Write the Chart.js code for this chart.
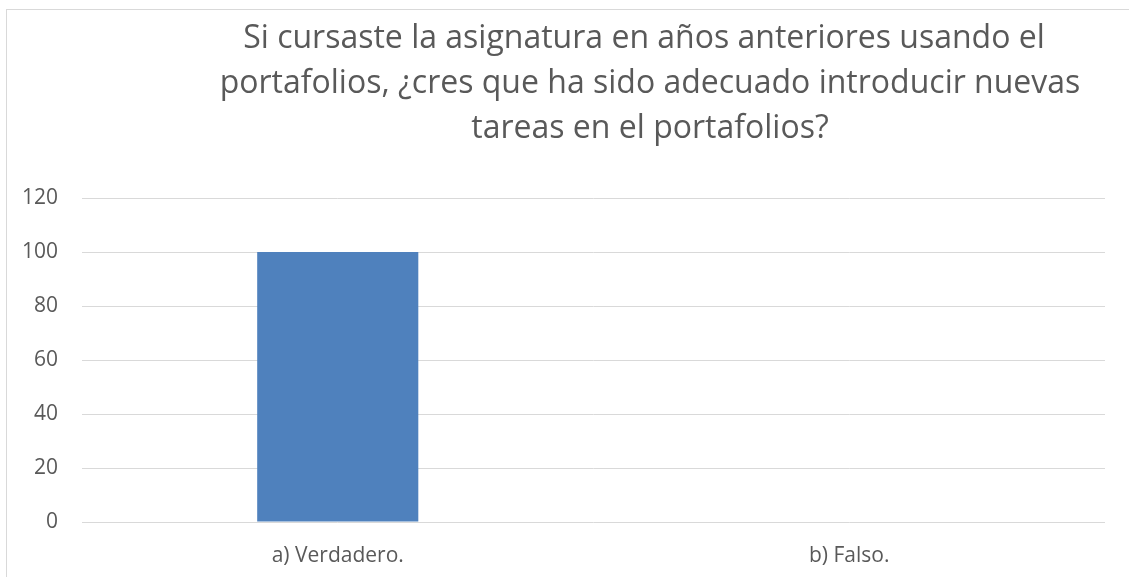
<!DOCTYPE html>
<html>
<head>
<meta charset="utf-8">
<script src="https://cdn.jsdelivr.net/npm/chart.js@4/dist/chart.umd.min.js"></script>
<style>
  html, body { margin: 0; padding: 0; background: #ffffff; }
  #wrap { position: relative; width: 1129px; height: 577px; }
</style>
</head>
<body>
<div id="wrap"><canvas id="c" width="1129" height="577"></canvas></div>
<script>
const categories = ['a) Verdadero.', 'b) Falso.'];
const values = [100, 0];
const titleLines = [
  'Si cursaste la asignatura en años anteriores usando el',
  'portafolios, ¿cres que ha sido adecuado introducir nuevas',
  'tareas en el portafolios?'
];
const yMin = 0, yMax = 120, yStep = 20;

const FONT = '"Open Sans", "Liberation Sans", sans-serif';
const TEXT = '#595959';
const GRID = '#d9d9d9';

const framePlugin = {
  id: 'frame',
  beforeDraw(chart) {
    const ctx = chart.ctx;
    ctx.save();
    ctx.fillStyle = '#ffffff';
    ctx.fillRect(0, 0, chart.width, chart.height);
    ctx.strokeStyle = GRID;
    ctx.lineWidth = 1;
    ctx.strokeRect(6.5, 9.5, chart.width + 20, chart.height + 20);
    ctx.restore();
  },
  afterDraw(chart) {
    const ctx = chart.ctx;
    ctx.save();
    ctx.fillStyle = TEXT;
    ctx.font = '32px ' + FONT;
    ctx.textAlign = 'center';
    ctx.textBaseline = 'alphabetic';
    const baselines = [48, 93, 138];
    const centers = [644, 650, 650];
    titleLines.forEach((t, i) => ctx.fillText(t, centers[i], baselines[i]));
    ctx.restore();
  }
};

new Chart(document.getElementById('c'), {
  type: 'bar',
  data: {
    labels: categories,
    datasets: [{
      data: values,
      backgroundColor: '#4f81bd',
      borderWidth: 0,
      categoryPercentage: 1,
      barPercentage: 0.315
    }]
  },
  options: {
    responsive: false,
    animation: false,
    devicePixelRatio: 1,
    layout: { padding: { top: 198, right: 24, bottom: 0, left: 0 } },
    plugins: { legend: { display: false }, title: { display: false }, tooltip: { enabled: false } },
    scales: {
      x: {
        grid: { display: false, drawTicks: false },
        border: { display: false },
        ticks: { color: TEXT, font: { family: FONT, size: 21 }, padding: 21, maxRotation: 0 },
        afterFit(s) { s.height = 55; }
      },
      y: {
        min: yMin, max: yMax,
        grid: { color: GRID, lineWidth: 1, drawTicks: false },
        border: { display: false },
        ticks: { stepSize: yStep, color: TEXT, font: { family: FONT, size: 21 }, padding: 24 },
        afterFit(s) { s.width = 82; }
      }
    }
  },
  plugins: [framePlugin]
});
</script>
</body>
</html>
